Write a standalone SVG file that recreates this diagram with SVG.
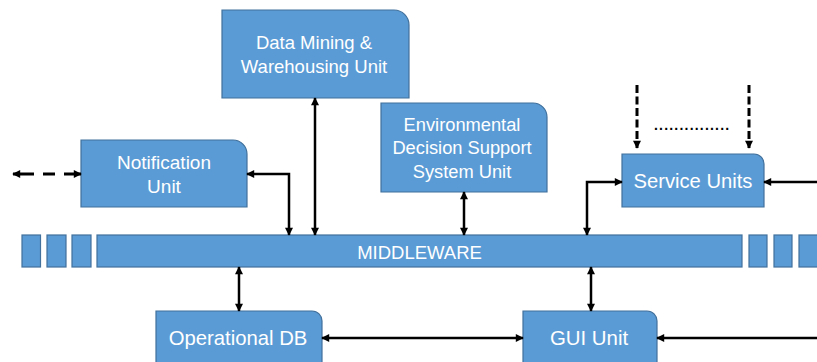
<svg xmlns="http://www.w3.org/2000/svg" width="817" height="362" viewBox="0 0 817 362">
<style>
.box{fill:#5B9BD5;stroke:#41719C;stroke-width:1.2}
.t{fill:#fff;font-family:"Liberation Sans",Arial,sans-serif;text-anchor:middle}
.c{fill:none;stroke:#000;stroke-width:2.5}
.d{stroke-width:3}
</style>
<defs>
<marker id="ah" viewBox="0 0 10 10" refX="9" refY="5" markerWidth="9" markerHeight="8" markerUnits="userSpaceOnUse" orient="auto-start-reverse">
<path d="M0,0 L10,5 L0,10 z" fill="#000"/>
</marker>
</defs>
<rect width="817" height="362" fill="#fff"/>
<g id="middleware">
<rect class="box" x="22" y="235" width="18.5" height="32"/>
<rect class="box" x="47" y="235" width="19" height="32"/>
<rect class="box" x="72" y="235" width="19" height="32"/>
<rect class="box" x="97" y="235" width="645" height="32"/>
<rect class="box" x="749" y="235" width="18" height="32"/>
<rect class="box" x="774" y="235" width="18" height="32"/>
<rect class="box" x="799" y="235" width="20" height="32"/>
<text class="t" x="419.5" y="259" font-size="18.5">MIDDLEWARE</text>
</g>
<g id="notification">
<path class="box" d="M81,140 H233 A14,14 0 0 1 247,154 V207 H81 Z"/>
<text class="t" x="164" y="169" font-size="19">Notification</text>
<text class="t" x="164" y="193" font-size="19">Unit</text>
</g>
<g id="datamining">
<path class="box" d="M222,10 H394 A15,15 0 0 1 409,25 V98 H222 Z"/>
<text class="t" x="314" y="49" font-size="18.5">Data Mining &amp;</text>
<text class="t" x="314" y="73" font-size="18.5">Warehousing Unit</text>
</g>
<g id="environmental">
<path class="box" d="M381,103 H533 A14,14 0 0 1 547,117 V192 H381 Z"/>
<text class="t" x="462" y="131" font-size="18.3">Environmental</text>
<text class="t" x="462" y="154" font-size="18.3">Decision Support</text>
<text class="t" x="462" y="178" font-size="18.3">System Unit</text>
</g>
<g id="service">
<path class="box" d="M622,154 H754 A10,10 0 0 1 764,164 V207 H622 Z"/>
<text class="t" x="693" y="188" font-size="20.2">Service Units</text>
</g>
<g id="operationaldb">
<path class="box" d="M156,311 H312 A10,10 0 0 1 322,321 V372 H156 Z"/>
<text class="t" x="238" y="345" font-size="20.3">Operational DB</text>
</g>
<g id="gui">
<path class="box" d="M523,311 H647 A10,10 0 0 1 657,321 V372 H523 Z"/>
<text class="t" x="589" y="345" font-size="20.4">GUI Unit</text>
</g>
<g id="connectors">
<path class="c d" d="M13,174 H81" stroke-dasharray="21 9 12 9 30" marker-start="url(#ah)" marker-end="url(#ah)"/>
<path class="c" d="M247,174 H289 V235" marker-start="url(#ah)" marker-end="url(#ah)"/>
<path class="c" d="M315,98 V235" marker-start="url(#ah)" marker-end="url(#ah)"/>
<path class="c" d="M464,192 V235" marker-start="url(#ah)" marker-end="url(#ah)"/>
<path class="c" d="M622,182 H587 V235" marker-start="url(#ah)" marker-end="url(#ah)"/>
<path class="c" d="M817,182 H764" marker-end="url(#ah)"/>
<path class="c d" d="M637,85 V148" stroke-dasharray="8 3.5" marker-end="url(#ah)"/>
<path class="c d" d="M749,85 V148" stroke-dasharray="8 3.5" marker-end="url(#ah)"/>
<path class="c" d="M239,267 V311" marker-start="url(#ah)" marker-end="url(#ah)"/>
<path class="c" d="M591,267 V311" marker-start="url(#ah)" marker-end="url(#ah)"/>
<path class="c" d="M322,338 H523" marker-start="url(#ah)" marker-end="url(#ah)"/>
<path class="c" d="M817,338 H657" marker-end="url(#ah)"/>
</g>
<text x="654" y="130" font-family="Liberation Sans,Arial,sans-serif" font-size="14" font-weight="bold" letter-spacing="1.2" fill="#000">...............</text>
</svg>
